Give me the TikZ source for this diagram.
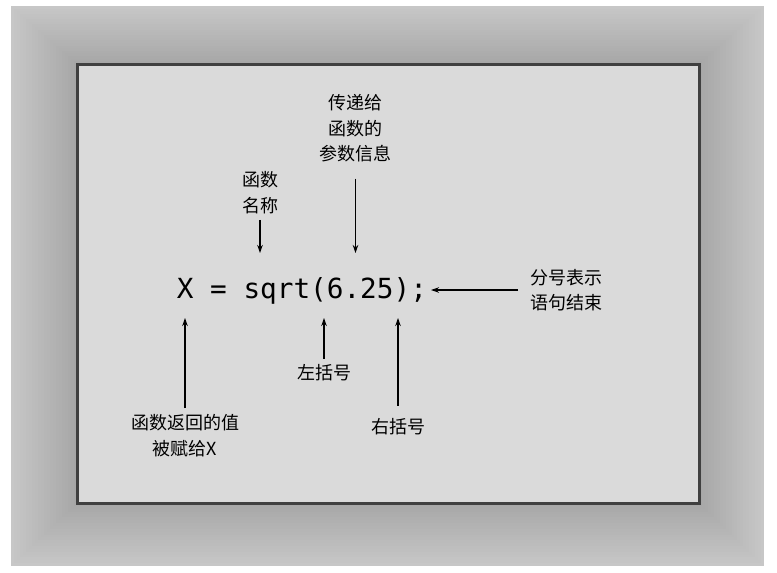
\documentclass[tikz,border=0pt]{standalone}
\usepackage{fontspec}
\usetikzlibrary{positioning, arrows.meta}
\newfontfamily\cjk{Noto Sans CJK SC}
\newfontfamily\codefont{DejaVu Sans Mono}
\definecolor{panel}{HTML}{DADADA}
\definecolor{rim}{HTML}{404040}

\begin{document}
\begin{tikzpicture}[
  x=1pt, y=-1pt,
  lbl/.style={align=center, inner sep=6pt, font=\cjk\fontsize{18}{25.5}\selectfont},
  arr/.style={-{Stealth[length=8pt,width=5.5pt]}, line width=1.1pt},
]
\useasboundingbox (0,0) rectangle (777,573);
% shaded frame round the panel
\foreach \i in {0,...,22} {
  \pgfmathsetmacro{\t}{\i/22}
  \pgfmathsetmacro{\shade}{22+13*\t}
  \fill[black!\shade] (11+66*\t, 6+58*\t) rectangle (764-65*\t, 566-63*\t);
}
\draw[rim, line width=3pt, fill=panel] (77,64) rectangle (699,503);

% the statement
\node[anchor=base west, inner sep=0, font=\codefont\fontsize{27.7}{30}\selectfont] (code) at (176.6,298)
  {X\phantom{=}=\phantom{=}sqrt(6.25);};

% labels
\node[lbl] (params) at (355.5,128.5) {传递给\\函数的\\参数信息};
\node[lbl] (fname) at (260,192.5) {函数\\名称};
\node[lbl, anchor=west] (semi) at (524,290) {分号表示\\语句结束};
\node[lbl] (lparen) at (324,373) {左括号};
\node[lbl] (retval) at (185,435.5) {函数返回的值\\被赋给X};
\node[lbl] (rparen) at (398,427) {右括号};

% arrow tips
\coordinate (fnametip) at (260,253);
\coordinate (argtip) at (355.5,253);
\coordinate (xtip) at (185,318);
\coordinate (lptip) at (324,318);
\coordinate (rptip) at (398,318);
\coordinate (semitip) at (431,290);

\draw[arr] (fname) -- (fnametip);
\draw[arr] ([yshift=-10pt]params.south) -- (argtip);
\draw[arr] (retval) -- (xtip);
\draw[arr] (lparen) -- (lptip);
\draw[arr] ([yshift=7pt]rparen.north) -- (rptip);
\draw[arr] ([xshift=-6pt]semi.west) -- (semitip);
\end{tikzpicture}
\end{document}
